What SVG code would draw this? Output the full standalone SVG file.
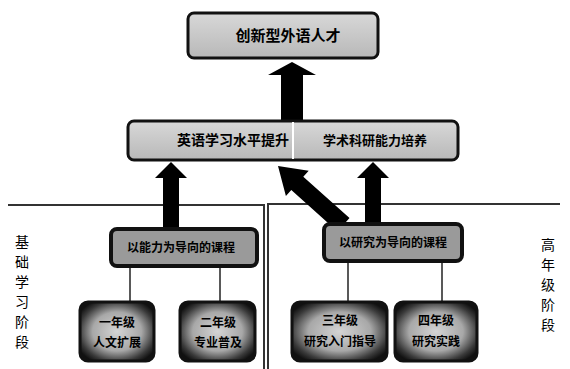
<svg xmlns="http://www.w3.org/2000/svg" width="570" height="369" viewBox="0 0 570 369">
  <defs>
    <radialGradient id="dark" cx="50%" cy="50%" r="60%">
      <stop offset="0%" stop-color="#d4d4d4"/>
      <stop offset="55%" stop-color="#a8a8a8"/>
      <stop offset="85%" stop-color="#3a3a3a"/>
      <stop offset="100%" stop-color="#111"/>
    </radialGradient>
    <linearGradient id="bar" x1="0" y1="0" x2="0" y2="1">
      <stop offset="0%" stop-color="#d8d8d8"/>
      <stop offset="100%" stop-color="#b8b8b8"/>
    </linearGradient>
  </defs>
  <style>
    .box { fill: url(#bar); stroke: #111; stroke-width: 3; }
    .midbox { fill: #9a9a9a; stroke: #111; stroke-width: 4; }
    .leaf { fill: url(#dark); stroke: #111; stroke-width: 3; }
    .arrow { fill: #000; }
    .line { stroke: #222; stroke-width: 1.5; fill: none; }
    .divider { stroke: #333; stroke-width: 2; fill: none; }
    text { font-family: "Noto Sans CJK SC", "Noto Sans", sans-serif; font-weight: bold; fill: #000; text-anchor: middle; }
    .side { font-size: 14px; font-weight: normal; }
  </style>

  <g id="dividers">
    <polyline class="divider" points="8,205 264,205 264,369"/>
    <polyline class="divider" points="560,204 268,204 268,369"/>
  </g>

  <g id="connectors">
    <polygon class="arrow" points="292,62 316,75 303,75 303,121 281,121 281,75 268,75"/>
    <polygon class="arrow" points="171,162 187,178 179,178 179,230 163,230 163,178 155,178"/>
    <polygon class="arrow" points="373,162 389,178 381,178 381,226 365,226 365,178 357,178"/>
    <polygon class="arrow" points="278,166 308.7,170.8 303.3,176.7 349.5,218.1 337.5,231.5 291.3,190.1 285.9,196"/>
    <line class="line" x1="130" y1="265" x2="130" y2="303"/>
    <line class="line" x1="220" y1="265" x2="220" y2="303"/>
    <line class="line" x1="348" y1="261" x2="348" y2="303"/>
    <line class="line" x1="442" y1="261" x2="442" y2="303"/>
  </g>

  <g id="top">
    <rect class="box" x="188" y="13" width="190" height="45" rx="6"/>
    <text x="288" y="41" font-size="15">创新型外语人才</text>
  </g>

  <g id="middle">
    <rect class="box" x="128" y="121" width="330" height="39" rx="6"/>
    <line x1="293" y1="122" x2="293" y2="159" stroke="#fff" stroke-width="2"/>
    <text x="233" y="145" font-size="14">英语学习水平提升</text>
    <text x="375" y="145" font-size="13">学术科研能力培养</text>
  </g>

  <g id="left-mid">
    <rect class="midbox" x="111" y="229" width="146" height="37" rx="6"/>
    <text x="181" y="252" font-size="12">以能力为导向的课程</text>
  </g>

  <g id="right-mid">
    <rect class="midbox" x="324" y="224" width="138" height="37" rx="6"/>
    <text x="393" y="247" font-size="12">以研究为导向的课程</text>
  </g>

  <g id="leaf1">
    <rect class="leaf" x="80" y="302" width="74" height="59" rx="8"/>
    <text x="117" y="327" font-size="12">一年级</text>
    <text x="117" y="347" font-size="12">人文扩展</text>
  </g>
  <g id="leaf2">
    <rect class="leaf" x="180" y="302" width="75" height="59" rx="8"/>
    <text x="218" y="327" font-size="12">二年级</text>
    <text x="218" y="347" font-size="12">专业普及</text>
  </g>
  <g id="leaf3">
    <rect class="leaf" x="292" y="302" width="95" height="59" rx="8"/>
    <text x="340" y="325" font-size="12">三年级</text>
    <text x="340" y="346" font-size="12">研究入门指导</text>
  </g>
  <g id="leaf4">
    <rect class="leaf" x="395" y="302" width="82" height="59" rx="8"/>
    <text x="436" y="325" font-size="12">四年级</text>
    <text x="436" y="346" font-size="12">研究实践</text>
  </g>

  <g id="label-left">
    <text class="side" x="22" y="247">基</text>
    <text class="side" x="22" y="267">础</text>
    <text class="side" x="22" y="287">学</text>
    <text class="side" x="22" y="307">习</text>
    <text class="side" x="22" y="327">阶</text>
    <text class="side" x="22" y="347">段</text>
  </g>
  <g id="label-right">
    <text class="side" x="548" y="250">高</text>
    <text class="side" x="548" y="270">年</text>
    <text class="side" x="548" y="290">级</text>
    <text class="side" x="548" y="310">阶</text>
    <text class="side" x="548" y="330">段</text>
  </g>
</svg>
